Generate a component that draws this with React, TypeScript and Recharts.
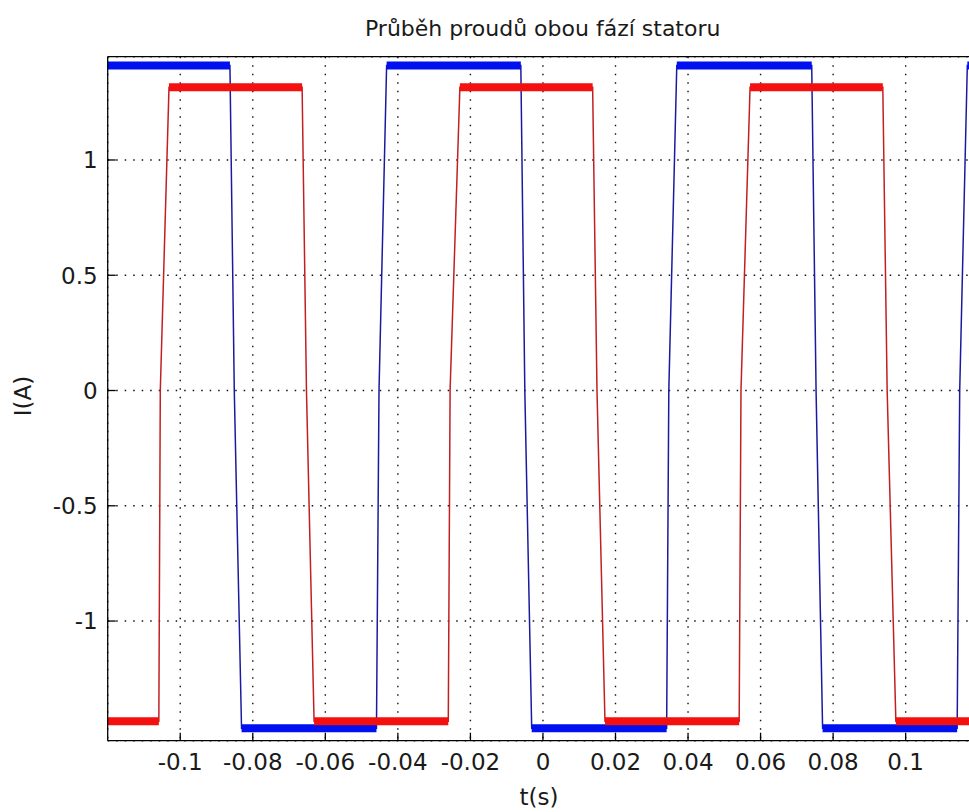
import React from "react";
import { LineChart, Line, XAxis, YAxis, CartesianGrid } from "recharts";

// t(s) ticks and I(A) ticks
const timeTicks = [-0.1, -0.08, -0.06, -0.04, -0.02, 0, 0.02, 0.04, 0.06, 0.08, 0.1];
const currentTicks = [-1, -0.5, 0, 0.5, 1];

// phase A (blue): flat stretches [start, end], their level, and the zero crossing between them
const blueEdges = [
  [-0.12, -0.0863],
  [-0.0831, -0.0459],
  [-0.0431, -0.0061],
  [-0.0031, 0.0341],
  [0.0369, 0.0741],
  [0.0771, 0.1142],
  [0.117, 0.12],
];
const blueLevels = [1.41, -1.465, 1.41, -1.465, 1.41, -1.465, 1.41];
const blueCross = [-0.0851, -0.0452, -0.005, 0.0347, 0.0753, 0.1149];

// phase B (red)
const redEdges = [
  [-0.12, -0.1059],
  [-0.1031, -0.0664],
  [-0.0631, -0.0261],
  [-0.0229, 0.0137],
  [0.0171, 0.0541],
  [0.0571, 0.0937],
  [0.0973, 0.12],
];
const redLevels = [-1.435, 1.315, -1.435, 1.315, -1.435, 1.315, -1.435];
const redCross = [-0.1055, -0.0652, -0.0256, 0.0149, 0.0546, 0.0949];

type Row = { t: number; i: number; band: number | null };

const buildRows = (edges: number[][], levels: number[], cross: number[]) => {
  const rows: Row[] = [];
  edges.forEach((e, k) => {
    rows.push({ t: e[0], i: levels[k], band: levels[k] });
    rows.push({ t: e[1], i: levels[k], band: levels[k] });
    if (k < cross.length) rows.push({ t: cross[k], i: 0, band: null });
  });
  return rows;
};

const blueData = buildRows(blueEdges, blueLevels, blueCross);
const redData = buildRows(redEdges, redLevels, redCross);

const FONT = "'DejaVu Sans', sans-serif";
const frame = { stroke: "#000", strokeWidth: 1.3 };

const BottomLabel = (props: any) => {
  const { x, y, payload } = props;
  return (
    <text x={x} y={y} dy="0.72em" textAnchor="middle" fontFamily={FONT} fontSize={23} fill="#1a1a1a">
      {String(payload.value)}
    </text>
  );
};

const LeftLabel = (props: any) => {
  const { x, y, payload } = props;
  return (
    <text x={x} y={y} dy="0.36em" textAnchor="end" fontFamily={FONT} fontSize={23} fill="#1a1a1a">
      {String(payload.value)}
    </text>
  );
};

export default function App() {
  return (
    <div
      style={{
        position: "fixed",
        left: 0,
        top: 0,
        width: 969,
        height: 812,
        overflow: "hidden",
        background: "#fff",
      }}
    >
      <LineChart
        width={990}
        height={812}
        margin={{ top: 36.7, right: 11.8, bottom: 41.3, left: 47.7 }}
      >
        <CartesianGrid stroke="#111" strokeWidth={1.4} strokeDasharray="1.5 7" />
        <XAxis
          type="number"
          dataKey="t"
          domain={[-0.12, 0.12]}
          allowDataOverflow
          ticks={timeTicks}
          interval={0}
          height={30}
          tickSize={-8}
          tickMargin={21}
          tickLine={frame}
          tick={<BottomLabel />}
          axisLine={frame}
        />
        <XAxis
          xAxisId="top"
          orientation="top"
          type="number"
          dataKey="t"
          domain={[-0.12, 0.12]}
          allowDataOverflow
          ticks={timeTicks}
          interval={0}
          height={20}
          tickSize={-8}
          tick={false}
          tickLine={frame}
          axisLine={frame}
        />
        <YAxis
          type="number"
          domain={[-1.519, 1.448]}
          allowDataOverflow
          ticks={currentTicks}
          interval={0}
          width={60}
          tickSize={-8}
          tickMargin={18}
          tickLine={frame}
          tick={<LeftLabel />}
          axisLine={frame}
        />
        <Line data={blueData} dataKey="i" stroke="#1a1aa0" strokeWidth={1.5} dot={false} activeDot={false} isAnimationActive={false} />
        <Line data={blueData} dataKey="band" stroke="#0010f0" strokeWidth={8} strokeLinecap="butt" dot={false} activeDot={false} connectNulls={false} isAnimationActive={false} />
        <Line data={redData} dataKey="i" stroke="#c02020" strokeWidth={1.5} dot={false} activeDot={false} isAnimationActive={false} />
        <Line data={redData} dataKey="band" stroke="#f51010" strokeWidth={8} strokeLinecap="butt" dot={false} activeDot={false} connectNulls={false} isAnimationActive={false} />
        <text x={542.7} y={36} textAnchor="middle" fontFamily={FONT} fontSize={22} fill="#1a1a1a">
          Průběh proudů obou fází statoru
        </text>
        <text x={539} y={797} dy="0.36em" textAnchor="middle" fontFamily={FONT} fontSize={23} fill="#1a1a1a">
          t(s)
        </text>
        <text
          x={23}
          y={396}
          dy="0.36em"
          textAnchor="middle"
          fontFamily={FONT}
          fontSize={23}
          fill="#1a1a1a"
          transform="rotate(-90 23 396)"
        >
          I(A)
        </text>
      </LineChart>
    </div>
  );
}
